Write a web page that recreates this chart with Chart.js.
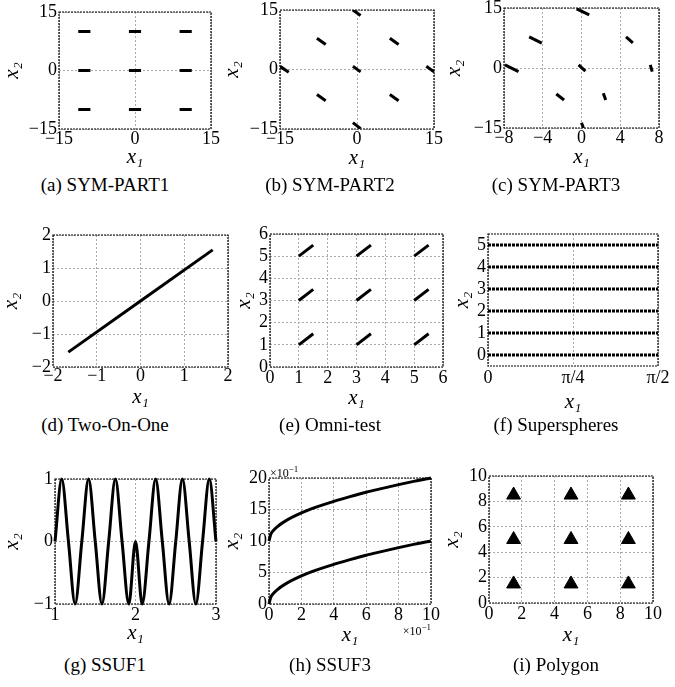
<!DOCTYPE html>
<html>
<head>
<meta charset="utf-8">
<script src="https://cdn.jsdelivr.net/npm/chart.js@4"></script>
<style>
  body { margin: 0; background: #fff; }
  #page { position: relative; width: 675px; height: 687px; overflow: hidden; background: #fff; }
  canvas { position: absolute; }
  .cap { position: absolute; font-family: 'Liberation Serif', 'Times New Roman', serif; font-size: 19px;
         color: #000; transform: translate(-50%, -50%); white-space: nowrap; }
</style>
</head>
<body>
<div id="page"></div>
<script>
// ---- data ----
// segments are [x1, y1, x2, y2]
const symPart1 = [
  [-11.2, 10, -8.8, 10], [-1.2, 10, 1.2, 10], [8.8, 10, 11.2, 10],
  [-11.2, 0, -8.8, 0], [-1.2, 0, 1.2, 0], [8.8, 0, 11.2, 0],
  [-11.2, -10, -8.8, -10], [-1.2, -10, 1.2, -10], [8.8, -10, 11.2, -10]
];
const symPart2 = [
  [-0.8, 15.0, 0.7, 13.6],
  [-7.8, 7.9, -6.1, 6.3], [6.4, 7.9, 8.1, 6.3],
  [-15, 0.8, -13.3, -0.7], [-0.8, 0.8, 0.7, -0.6], [13.5, 0.8, 15, -0.6],
  [-7.8, -6.3, -6.1, -7.9], [6.4, -6.3, 8.1, -7.9],
  [-0.8, -13.4, 0.7, -14.9]
];
const symPart3 = [
  [-0.5, 14.8, 0.8, 13.3],
  [-5.4, 7.8, -4.1, 6.2], [4.6, 7.8, 5.3, 6.3],
  [-7.9, 0.8, -6.5, -0.9], [-0.3, 0.8, 0.4, -0.8], [7.1, 0.8, 7.3, -0.9],
  [-2.6, -6.5, -1.8, -8.0], [2.25, -6.3, 2.5, -8.0],
  [0.0, -13.7, 0.2, -15]
];
const twoOnOneX = [-1.65, 0, 1.65];
const twoOnOneY = [-1.55, 0, 1.55];
const omniTest = [
  [1, 1, 1.5, 1.5], [3, 1, 3.5, 1.5], [5, 1, 5.5, 1.5],
  [1, 3, 1.5, 3.5], [3, 3, 3.5, 3.5], [5, 3, 5.5, 3.5],
  [1, 5, 1.5, 5.5], [3, 5, 3.5, 5.5], [5, 5, 5.5, 5.5]
];
const superLevels = [0, 1, 2, 3, 4, 5];
const superSpan = [0, Math.PI / 2];
const ssuf1X = [1, 1.083, 1.167, 1.25, 1.333, 1.417, 1.5, 1.583, 1.667, 1.75, 1.833, 1.917, 2,
                2.083, 2.167, 2.25, 2.333, 2.417, 2.5, 2.583, 2.667, 2.75, 2.833, 2.917, 3];
const ssuf1Y = [0, 1, 0, -1, 0, 1, 0, -1, 0, 1, 0, -1, 0,
                -1, 0, 1, 0, -1, 0, 1, 0, -1, 0, 1, 0];
const ssuf3X = [0, 0.1, 0.25, 0.5, 1, 2, 3, 4, 5, 6, 7, 8, 9, 10];
const ssuf3Low = [0, 1.0, 1.6, 2.25, 3.15, 4.45, 5.45, 6.3, 7.05, 7.75, 8.35, 8.95, 9.5, 10];
const ssuf3High = [10, 11.0, 11.6, 12.25, 13.15, 14.45, 15.45, 16.3, 17.05, 17.75, 18.35, 18.95, 19.5, 20];
const polyX = [1.5, 5, 8.5, 1.5, 5, 8.5, 1.5, 5, 8.5];
const polyY = [1.5, 1.5, 1.5, 5, 5, 5, 8.5, 8.5, 8.5];

// tick values / labels
const ticks15 = [-15, 0, 15];
const ticks8 = [-8, -4, 0, 4, 8];
const ticks2 = [-2, -1, 0, 1, 2];
const ticks6 = [0, 1, 2, 3, 4, 5, 6];
const ticksSuperY = [0, 1, 2, 3, 4, 5];
const ticksPi = [0, Math.PI / 4, Math.PI / 2];
const labelsPi = ['0', 'π/4', 'π/2'];
const ticks13 = [1, 2, 3];
const ticks11 = [-1, 0, 1];
const ticks10 = [0, 2, 4, 6, 8, 10];
const ticks20 = [0, 5, 10, 15, 20];

const captions = ['(a) SYM-PART1', '(b) SYM-PART2', '(c) SYM-PART3',
                  '(d) Two-On-One', '(e) Omni-test', '(f) Superspheres',
                  '(g) SSUF1', '(h) SSUF3', '(i) Polygon'];

// ---- drawing ----
const page = document.getElementById('page');
const serif = "'Liberation Serif', 'Times New Roman', serif";
const tickFont = { family: serif, size: 18 };
const titleFont = { family: serif, size: 21, style: 'italic', lineHeight: 1.2 };

const framePlugin = {
  id: 'frame',
  beforeDatasetsDraw(chart) {
    const a = chart.chartArea, ctx = chart.ctx;
    ctx.save();
    ctx.strokeStyle = '#000';
    ctx.lineWidth = 1.2;
    ctx.setLineDash([2, 1]);
    ctx.strokeRect(a.left, a.top, a.right - a.left, a.bottom - a.top);
    ctx.restore();
  }
};

const sciPlugin = {
  id: 'sci',
  afterDraw(chart) {
    const a = chart.chartArea, ctx = chart.ctx;
    function sci(x, y, alignRight) {
      ctx.save();
      ctx.fillStyle = '#000';
      ctx.textBaseline = 'alphabetic';
      ctx.font = '12px ' + serif;
      const w1 = ctx.measureText('×10').width;
      ctx.font = '9px ' + serif;
      const w2 = ctx.measureText('−1').width;
      const x0 = alignRight ? x - w1 - w2 : x;
      ctx.font = '12px ' + serif;
      ctx.fillText('×10', x0, y);
      ctx.font = '9px ' + serif;
      ctx.fillText('−1', x0 + w1, y - 5);
      ctx.restore();
    }
    sci(a.left + 1, a.top - 1, false);
    sci(a.right, a.bottom + 31, true);
  }
};

function minus(v) { return String(v).replace('-', '\u2212'); }

function segLines(segs) {
  return segs.map(s => ({
    data: [{ x: s[0], y: s[1] }, { x: s[2], y: s[3] }],
    showLine: true, borderColor: '#000', borderWidth: 3, pointRadius: 0, borderCapStyle: 'butt'
  }));
}

function pairs(xs, ys) { return xs.map((x, i) => ({ x: x, y: ys[i] })); }

function axis(spec, pos, title, size) {
  return {
    type: 'linear', position: pos, min: spec.min, max: spec.max,
    afterBuildTicks: s => { s.ticks = spec.ticks.map(v => ({ value: v })); },
    afterFit: s => { if (pos === 'left') s.width = size; else s.height = size; },
    ticks: {
      font: tickFont, color: '#000', padding: spec.pad !== undefined ? spec.pad : 2,
      autoSkip: false, maxRotation: 0,
      callback: (v, i) => spec.labels ? spec.labels[i] : minus(v)
    },
    grid: { color: '#aaa', lineWidth: 1, drawTicks: false },
    border: { display: false, dash: [2, 2] },
    title: { display: true, text: title, font: titleFont, color: '#000', padding: { top: 1, bottom: 1 } }
  };
}

// box: [left, top, right, bottom, y-title offset, x-title offset]
function plot(box, datasets, xSpec, ySpec, extraPlugins) {
  const [L, T, R, B, yOff, xOff] = box;
  const yW = yOff + 14, xH = xOff + 14, padT = 14, padR = 16;
  const cv = document.createElement('canvas');
  cv.width = R - L + yW + padR;
  cv.height = B - T + padT + xH;
  cv.style.left = (L - yW) + 'px';
  cv.style.top = (T - padT) + 'px';
  page.appendChild(cv);
  new Chart(cv, {
    type: 'scatter',
    data: { datasets: datasets },
    options: {
      responsive: false, animation: false, devicePixelRatio: 1, events: [],
      layout: { padding: { top: padT, right: padR, left: 0, bottom: 0 } },
      plugins: { legend: { display: false }, tooltip: { enabled: false } },
      scales: { x: axis(xSpec, 'bottom', 'x₁', xH), y: axis(ySpec, 'left', 'x₂', yW) }
    },
    plugins: [framePlugin].concat(extraPlugins || [])
  });
}

plot([59, 12, 211, 129, 46, 28], segLines(symPart1),
  { min: -15, max: 15, ticks: ticks15, pad: -1 }, { min: -15, max: 15, ticks: ticks15 });
plot([280, 10, 434, 129, 47, 29], segLines(symPart2),
  { min: -15, max: 15, ticks: ticks15, pad: -1 }, { min: -15, max: 15, ticks: ticks15 });
plot([504, 8, 659, 128, 49, 29], segLines(symPart3),
  { min: -8, max: 8, ticks: ticks8, pad: -1 }, { min: -15, max: 15, ticks: ticks15 });

plot([53, 235, 228, 367, 41, 30], [{
    data: pairs(twoOnOneX, twoOnOneY), showLine: true, borderColor: '#000', borderWidth: 3, pointRadius: 0
  }],
  { min: -2, max: 2, ticks: ticks2, pad: -2 }, { min: -2, max: 2, ticks: ticks2 });
plot([270, 234, 443, 367, 25, 31], segLines(omniTest),
  { min: 0, max: 6, ticks: ticks6, pad: 0 }, { min: 0, max: 6, ticks: ticks6 });
plot([488, 234, 658, 366, 25, 36], superLevels.map(k => ({
    data: [{ x: superSpan[0], y: k }, { x: superSpan[1], y: k }],
    showLine: true, borderColor: '#000', borderWidth: 3, borderDash: [3, 1], pointRadius: 0
  })),
  { min: 0, max: Math.PI / 2, ticks: ticksPi, labels: labelsPi, pad: 1 }, { min: -0.5, max: 5.5, ticks: ticksSuperY });

plot([55, 479, 216, 604, 42, 29], [{
    data: pairs(ssuf1X, ssuf1Y), showLine: true, borderColor: '#000', borderWidth: 3, pointRadius: 0,
    cubicInterpolationMode: 'monotone', clip: false
  }],
  { min: 1, max: 3, ticks: ticks13, pad: 0 }, { min: -1, max: 1, ticks: ticks11 });
plot([269, 478, 431, 604, 36, 31], [ssuf3Low, ssuf3High].map(ys => ({
    data: pairs(ssuf3X, ys), showLine: true, borderColor: '#000', borderWidth: 3, pointRadius: 0,
    cubicInterpolationMode: 'monotone', clip: false
  })),
  { min: 0, max: 10, ticks: ticks10, pad: 0 }, { min: 0, max: 20, ticks: ticks20 }, [sciPlugin]);
plot([489, 476, 653, 603, 36, 32], [{
    data: pairs(polyX, polyY), pointStyle: 'triangle', pointRadius: 8,
    backgroundColor: '#000', borderColor: '#000', borderWidth: 1
  }],
  { min: 0, max: 10, ticks: ticks10, pad: 0 }, { min: 0, max: 10, ticks: ticks10 });

const capX = [105, 330, 556];
const capY = [185, 425, 665];
captions.forEach((t, i) => {
  const d = document.createElement('div');
  d.className = 'cap';
  d.textContent = t;
  d.style.left = capX[i % 3] + 'px';
  d.style.top = capY[Math.floor(i / 3)] + 'px';
  page.appendChild(d);
});
</script>
</body>
</html>
